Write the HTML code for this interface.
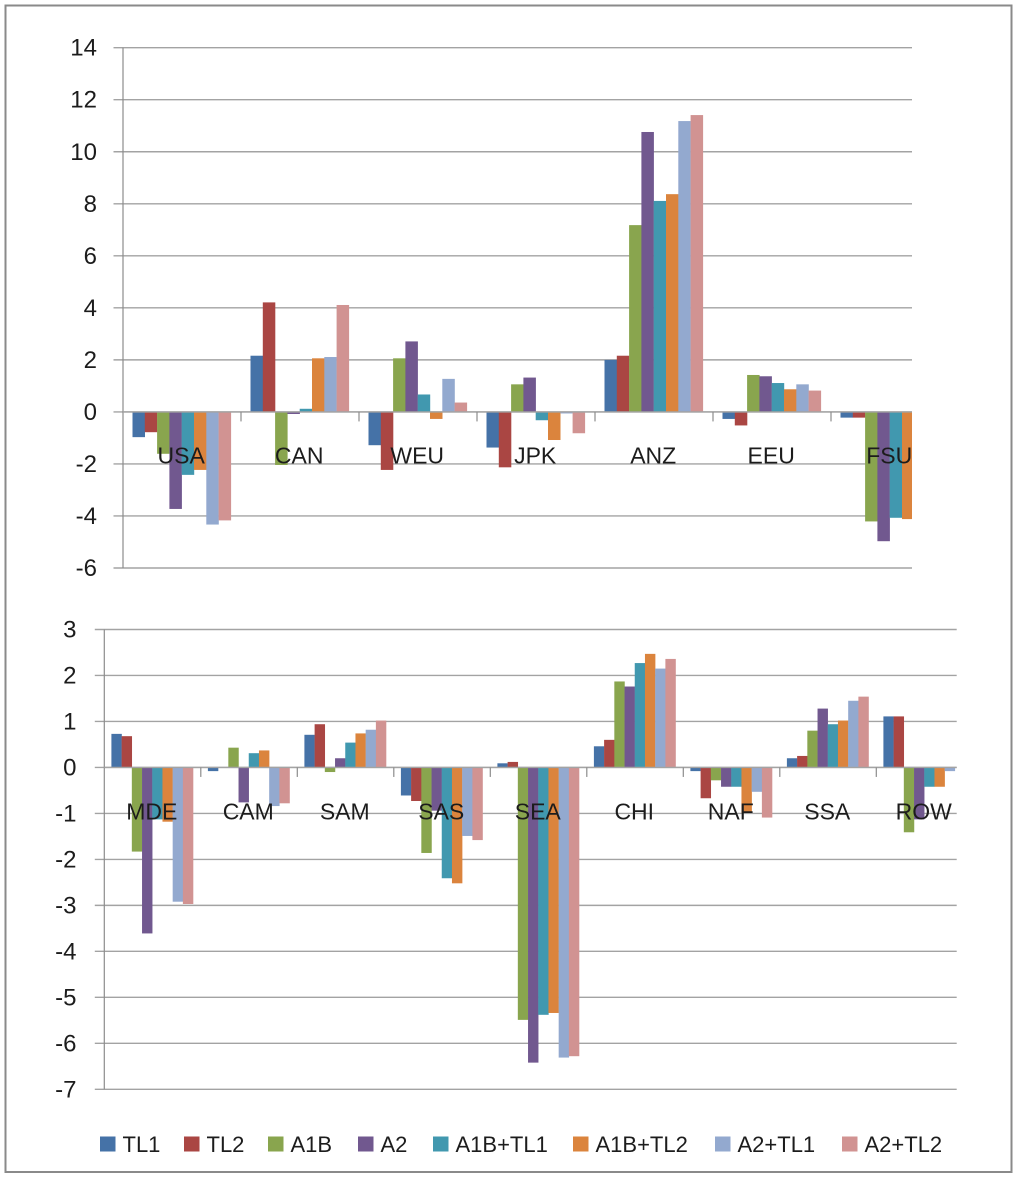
<!DOCTYPE html>
<html lang="en">
<head>
<meta charset="utf-8">
<title>Regional change by scenario</title>
<style>
  html, body { margin: 0; padding: 0; background: #fff; }
  #figure { display: block; filter: blur(0.35px); }
  text { font-family: "Liberation Sans", sans-serif; fill: #1c1c1c; }
</style>
</head>
<body>
<svg id="figure" xmlns="http://www.w3.org/2000/svg" width="1024" height="1184" viewBox="0 0 1024 1184">
  <rect x="0" y="0" width="1024" height="1184" fill="#ffffff"/>
  <rect x="5.5" y="5.5" width="1006" height="1166.5" fill="none" stroke="#8a8a8a" stroke-width="2"/>
  <g id="top-chart"></g>
  <g id="bottom-chart"></g>
  <g id="legend"></g>
</svg>
<script>
const seriesNames = ["TL1", "TL2", "A1B", "A2", "A1B+TL1", "A1B+TL2", "A2+TL1", "A2+TL2"];
const seriesColors = ["#4572A7", "#AA4643", "#89A54E", "#71588F", "#4198AF", "#DB843D", "#93A9CF", "#D19392"];

const topCategories = ["USA", "CAN", "WEU", "JPK", "ANZ", "EEU", "FSU"];
const topTicks = [14, 12, 10, 8, 6, 4, 2, 0, -2, -4, -6];
const topTL1 = [-0.97, 2.16, -1.28, -1.37, 2.00, -0.27, -0.22];
const topTL2 = [-0.78, 4.21, -2.23, -2.13, 2.16, -0.52, -0.22];
const topA1B = [-1.61, -2.04, 2.06, 1.06, 7.18, 1.42, -4.21];
const topA2 = [-3.73, -0.08, 2.71, 1.32, 10.76, 1.37, -4.97];
const topA1BTL1 = [-2.42, 0.12, 0.67, -0.32, 8.11, 1.11, -4.07];
const topA1BTL2 = [-2.23, 2.06, -0.27, -1.08, 8.37, 0.87, -4.12];
const topA2TL1 = [-4.33, 2.11, 1.27, -0.06, 11.18, 1.06, null];
const topA2TL2 = [-4.17, 4.11, 0.36, -0.82, 11.41, 0.82, null];

const bottomCategories = ["MDE", "CAM", "SAM", "SAS", "SEA", "CHI", "NAF", "SSA", "ROW"];
const bottomTicks = [3, 2, 1, 0, -1, -2, -3, -4, -5, -6, -7];
const bottomTL1 = [0.73, -0.08, 0.71, -0.61, 0.09, 0.46, -0.08, 0.20, 1.11];
const bottomTL2 = [0.68, 0, 0.94, -0.73, 0.12, 0.60, -0.67, 0.25, 1.11];
const bottomA1B = [-1.83, 0.43, -0.10, -1.86, -5.49, 1.87, -0.28, 0.80, -1.41];
const bottomA2 = [-3.61, -0.76, 0.20, -0.94, -6.42, 1.76, -0.42, 1.28, -1.13];
const bottomA1BTL1 = [-1.13, 0.31, 0.54, -2.41, -5.38, 2.27, -0.42, 0.94, -0.42];
const bottomA1BTL2 = [-1.18, 0.37, 0.74, -2.52, -5.34, 2.47, -0.99, 1.02, -0.42];
const bottomA2TL1 = [-2.92, -0.84, 0.82, -1.49, -6.31, 2.15, -0.53, 1.45, -0.08];
const bottomA2TL2 = [-2.97, -0.78, 1.02, -1.58, -6.28, 2.36, -1.09, 1.54, null];

const NS = "http://www.w3.org/2000/svg";

function make(tag, attrs, parent) {
  const el = document.createElementNS(NS, tag);
  for (const key in attrs) el.setAttribute(key, attrs[key]);
  parent.appendChild(el);
  return el;
}

function drawChart(parent, prefix, layout, categories, ticks, series) {
  const maxTick = Math.max.apply(null, ticks);
  const minTick = Math.min.apply(null, ticks);
  const yScale = v => layout.top + (maxTick - v) * (layout.bottom - layout.top) / (maxTick - minTick);
  const xBand = i => layout.left + i * layout.band;
  const barWidth = (layout.band - 2 * layout.pad) / series.length;

  const clipId = prefix + "-clip";
  const defs = make("defs", {}, parent);
  const clip = make("clipPath", { id: clipId }, defs);
  make("rect", { x: layout.left, y: 0, width: layout.right - layout.left, height: 1184 }, clip);

  ticks.forEach(t => {
    const y = yScale(t);
    const grid = make("line", { x1: layout.left - 9.5, x2: layout.right, y1: y, y2: y, stroke: "#a3a3a3", "stroke-width": 1.4 }, parent);
    
    
    const label = make("text", { x: layout.labelRight, y: y + 8, "text-anchor": "end", "font-size": 24 }, parent);
    
    
    label.textContent = t;
  });

  const bars = make("g", { "clip-path": "url(#" + clipId + ")" }, parent);
  
  
  series.forEach((values, s) => {
    values.forEach((v, c) => {
      if (v === null) return;
      const y0 = yScale(0);
      const y1 = yScale(v);
      const bar = make("rect", {
        x: xBand(c) + layout.pad + s * barWidth - 0.3,
        y: Math.min(y0, y1),
        width: barWidth + 0.2,
        height: Math.abs(y1 - y0),
        fill: seriesColors[s]
      }, bars);
      
      
    });
  });

  const yAxis = make("line", { x1: layout.left, x2: layout.left, y1: layout.top, y2: layout.bottom, stroke: "#8c8c8c", "stroke-width": 1.2 }, parent);
  
  
  const zeroY = yScale(0);
  const xAxis = make("line", { x1: layout.left, x2: layout.right, y1: zeroY, y2: zeroY, stroke: "#a3a3a3", "stroke-width": 1.4 }, parent);
  
  

  categories.forEach((name, i) => {
    if (i > 0) {
      const tick = make("line", { x1: xBand(i), x2: xBand(i), y1: zeroY, y2: zeroY + 9.5, stroke: "#8c8c8c", "stroke-width": 1.2 }, parent);
      
      
    }
    const label = make("text", { x: xBand(i) + layout.band / 2 - 0.8, y: zeroY + layout.labelOffset, "text-anchor": "middle", "font-size": 23 }, parent);
    
    
    label.textContent = name;
  });
}

drawChart(
  document.getElementById("top-chart"), "top",
  { left: 123, right: 912, top: 47.7, bottom: 568, band: 118, pad: 9.8, labelRight: 97, labelOffset: 51.5 },
  topCategories, topTicks,
  [topTL1, topTL2, topA1B, topA2, topA1BTL1, topA1BTL2, topA2TL1, topA2TL2]
);

drawChart(
  document.getElementById("bottom-chart"), "bottom",
  { left: 104.3, right: 956.7, top: 629.5, bottom: 1089.3, band: 96.5, pad: 7.4, labelRight: 76.5, labelOffset: 52 },
  bottomCategories, bottomTicks,
  [bottomTL1, bottomTL2, bottomA1B, bottomA2, bottomA1BTL1, bottomA1BTL2, bottomA2TL1, bottomA2TL2]
);

const legendGroup = document.getElementById("legend");
const legendStep = [100, 184, 268, 358, 433, 573, 715, 842];
seriesNames.forEach((name, i) => {
  const swatch = make("rect", { x: legendStep[i], y: 1136.5, width: 15.5, height: 15, fill: seriesColors[i] }, legendGroup);
  
  
  const label = make("text", { x: legendStep[i] + 22.5, y: 1152, "font-size": 22 }, legendGroup);
  
  
  label.textContent = name;
});
</script>
</body>
</html>
